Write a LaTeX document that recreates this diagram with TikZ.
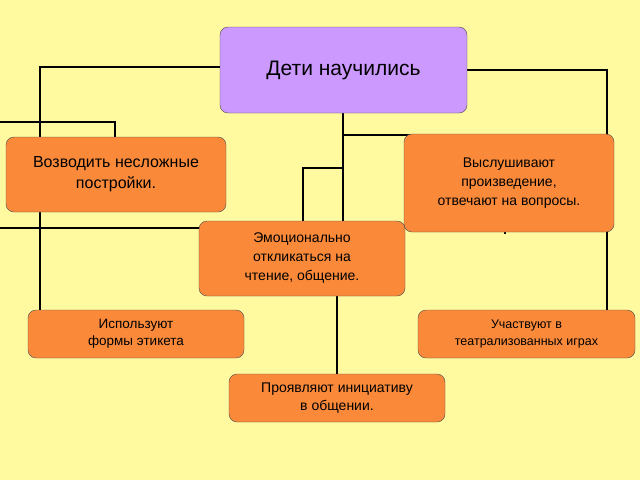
\documentclass[tikz,border=0pt]{standalone}
\usepackage{fontspec}
\setmainfont{Liberation Sans}
\usetikzlibrary{positioning}
\definecolor{boxorange}{RGB}{250,138,58}
\definecolor{boxviolet}{RGB}{204,153,255}
\definecolor{bgyellow}{RGB}{255,249,160}
\tikzset{
  item/.style={draw=black!70, fill=boxorange, rounded corners=8pt, align=center, inner sep=2pt},
  link/.style={draw=black, line width=1.6pt}
}
\begin{document}
\begin{tikzpicture}[x=1pt, y=-1pt]
  \fill[bgyellow] (0,0) rectangle (640,480);
  \useasboundingbox (0,0) rectangle (640,480);
  % connectors first, boxes on top
  \coordinate (lt) at (40,67);
  \coordinate (rt) at (607,70);
  \draw[link] (220,67) -- (lt) -- (40,310);
  \draw[link] (467,70) -- (rt) -- (607,310);
  \draw[link] (0,122) -- (115,122) -- (115,137);
  \draw[link] (0,228) -- (200,228);
  \draw[link] (343,113) -- (343,222);
  \draw[link] (343,135) -- (505,135) -- (505,137);
  \draw[link] (343,168) -- (303,168) -- (303,222);
  \draw[link] (337,296) -- (337,375);
  \draw[link] (505,230) -- (505,234);
  % boxes
  \node[item, fill=boxviolet, minimum width=247pt, minimum height=86pt, font=\fontsize{21}{25}\selectfont] (root) at (343.5,70) {Дети научились};
  \node[item, minimum width=220pt, minimum height=75pt, font=\fontsize{16}{21}\selectfont] (build) at (116,174.5) {Возводить несложные\\постройки.};
  \node[item, minimum width=210pt, minimum height=98pt, font=\fontsize{14}{19}\selectfont] (listen) at (509,183) {Выслушивают\\произведение,\\отвечают на вопросы.};
  \node[item, minimum width=206pt, minimum height=75pt, font=\fontsize{14}{19}\selectfont] (emo) at (302,258.5) {Эмоционально\\откликаться на\\чтение, общение.};
  \node[item, minimum width=216pt, minimum height=48pt, font=\fontsize{13.5}{17}\selectfont] (forms) at (136,334) {Используют\\формы этикета};
  \node[item, minimum width=217pt, minimum height=48pt, font=\fontsize{12.5}{17}\selectfont] (play) at (526.5,334) {Участвуют в\\театрализованных играх};
  \node[item, minimum width=216pt, minimum height=48pt, font=\fontsize{14}{18}\selectfont] (init) at (337,398) {Проявляют инициативу\\в общении.};
\end{tikzpicture}
\end{document}
